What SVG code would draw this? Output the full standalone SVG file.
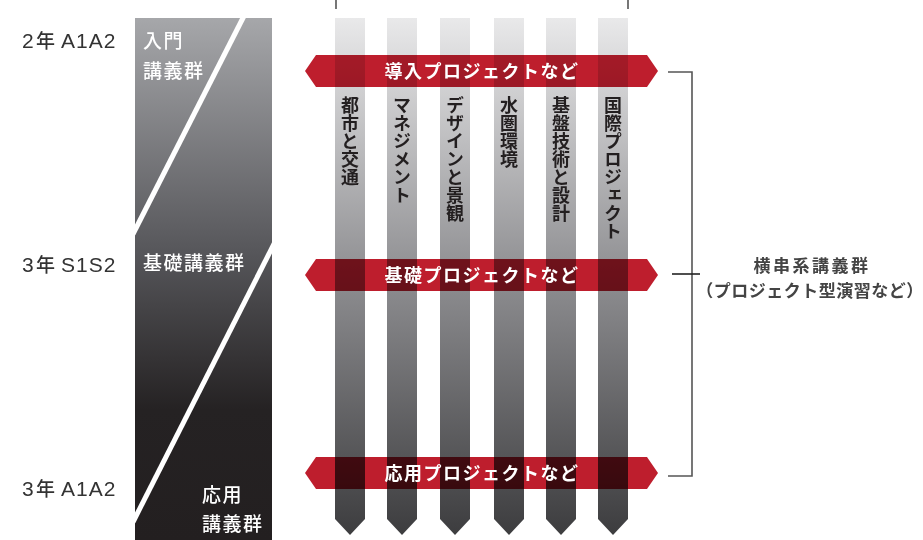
<svg xmlns="http://www.w3.org/2000/svg" width="923" height="540" viewBox="0 0 923 540">
<defs>
<linearGradient id="panelG" gradientUnits="userSpaceOnUse" x1="0" y1="18" x2="0" y2="540">
<stop offset="0" stop-color="#a6a7aa"/>
<stop offset="0.45" stop-color="#56565a"/>
<stop offset="0.75" stop-color="#252223"/>
<stop offset="1" stop-color="#231f20"/>
</linearGradient>
<linearGradient id="colG" gradientUnits="userSpaceOnUse" x1="0" y1="18" x2="0" y2="537">
<stop offset="0" stop-color="#e9e9ea"/>
<stop offset="0.5" stop-color="#8e8e91"/>
<stop offset="1" stop-color="#3c3c3e"/>
</linearGradient>
<path id="col" d="M0,18 H30 V519 L15,535 L0,519 Z"/>
</defs>
<style>
.lbl{font-family:"Liberation Sans","Noto Sans CJK JP",sans-serif;font-size:21px;fill:#333;letter-spacing:1px}
.lj{font-family:"Noto Sans CJK JP",sans-serif;font-size:19px;fill:#333;font-weight:500}
.pt{font-family:"Noto Sans CJK JP",sans-serif;font-size:19px;fill:#fff;font-weight:500;letter-spacing:1.5px}
.bt{font-family:"Noto Sans CJK JP",sans-serif;font-size:18px;fill:#fff;font-weight:700;letter-spacing:1.5px}
.vt{font-family:"Noto Sans CJK JP",sans-serif;font-size:18px;fill:#231f20;font-weight:700;writing-mode:vertical-rl}
.banner{fill:#be1e2d;mix-blend-mode:multiply}
.br{fill:none;stroke:#555;stroke-width:1.6}
.rt{font-family:"Noto Sans CJK JP",sans-serif;font-size:17px;fill:#444;font-weight:700}
</style>

<g id="year-labels">
<text class="lbl" x="22" y="48">2</text><text class="lj" x="36" y="48">年</text><text class="lbl" x="61" y="48">A1A2</text>
<text class="lbl" x="22" y="272">3</text><text class="lj" x="36" y="272">年</text><text class="lbl" x="61" y="272">S1S2</text>
<text class="lbl" x="22" y="496">3</text><text class="lj" x="36" y="496">年</text><text class="lbl" x="61" y="496">A1A2</text>
</g>

<g id="panel">
<rect x="135" y="18" width="137" height="522" fill="url(#panelG)"/>
<line x1="245" y1="14" x2="133" y2="234" stroke="#fff" stroke-width="5"/>
<line x1="276" y1="240" x2="133" y2="522" stroke="#fff" stroke-width="5"/>
<text class="pt" x="143" y="48">入門</text>
<text class="pt" x="143" y="78">講義群</text>
<text class="pt" x="143" y="270">基礎講義群</text>
<text class="pt" x="202" y="502">応用</text>
<text class="pt" x="202" y="531">講義群</text>
</g>

<g id="connectors">
<path class="br" d="M336,9 V-1 H628 V9"/>
<path class="br" d="M668,72 H692 V476 H668"/>
<line x1="672" y1="274" x2="700" y2="274" stroke="#222" stroke-width="1.6"/>
</g>

<g id="columns">
<g id="col1"><use href="#col" x="335" fill="url(#colG)"/></g>
<g id="col2"><use href="#col" x="387" fill="url(#colG)"/></g>
<g id="col3"><use href="#col" x="440" fill="url(#colG)"/></g>
<g id="col4"><use href="#col" x="494" fill="url(#colG)"/></g>
<g id="col5"><use href="#col" x="546" fill="url(#colG)"/></g>
<g id="col6"><use href="#col" x="598" fill="url(#colG)"/></g>
</g>

<g id="banners">
<g id="banner1"><path class="banner" d="M305,71 L316,55 H647 L658,71 L647,87 H316 Z"/></g>
<g id="banner2"><path class="banner" d="M305,275 L316,259 H647 L658,275 L647,291 H316 Z"/></g>
<g id="banner3"><path class="banner" d="M305,473 L316,457 H647 L658,473 L647,489 H316 Z"/></g>
</g>
<g id="banner-texts">
<text class="bt" x="482" y="78" text-anchor="middle">導入プロジェクトなど</text>
<text class="bt" x="482" y="282" text-anchor="middle">基礎プロジェクトなど</text>
<text class="bt" x="482" y="480" text-anchor="middle">応用プロジェクトなど</text>
</g>

<g id="column-labels">
<text class="vt" x="350" y="96">都市と交通</text>
<text class="vt" x="402" y="96">マネジメント</text>
<text class="vt" x="455" y="96">デザインと景観</text>
<text class="vt" x="509" y="96">水圏環境</text>
<text class="vt" x="561" y="96">基盤技術と設計</text>
<text class="vt" x="613" y="96">国際プロジェクト</text>
</g>

<g id="right-label">
<text class="rt" x="812" y="272" text-anchor="middle" letter-spacing="2.5">横串系講義群</text>
<text class="rt" x="810" y="297" text-anchor="middle" letter-spacing="0.5">（プロジェクト型演習など）</text>
</g>
</svg>
